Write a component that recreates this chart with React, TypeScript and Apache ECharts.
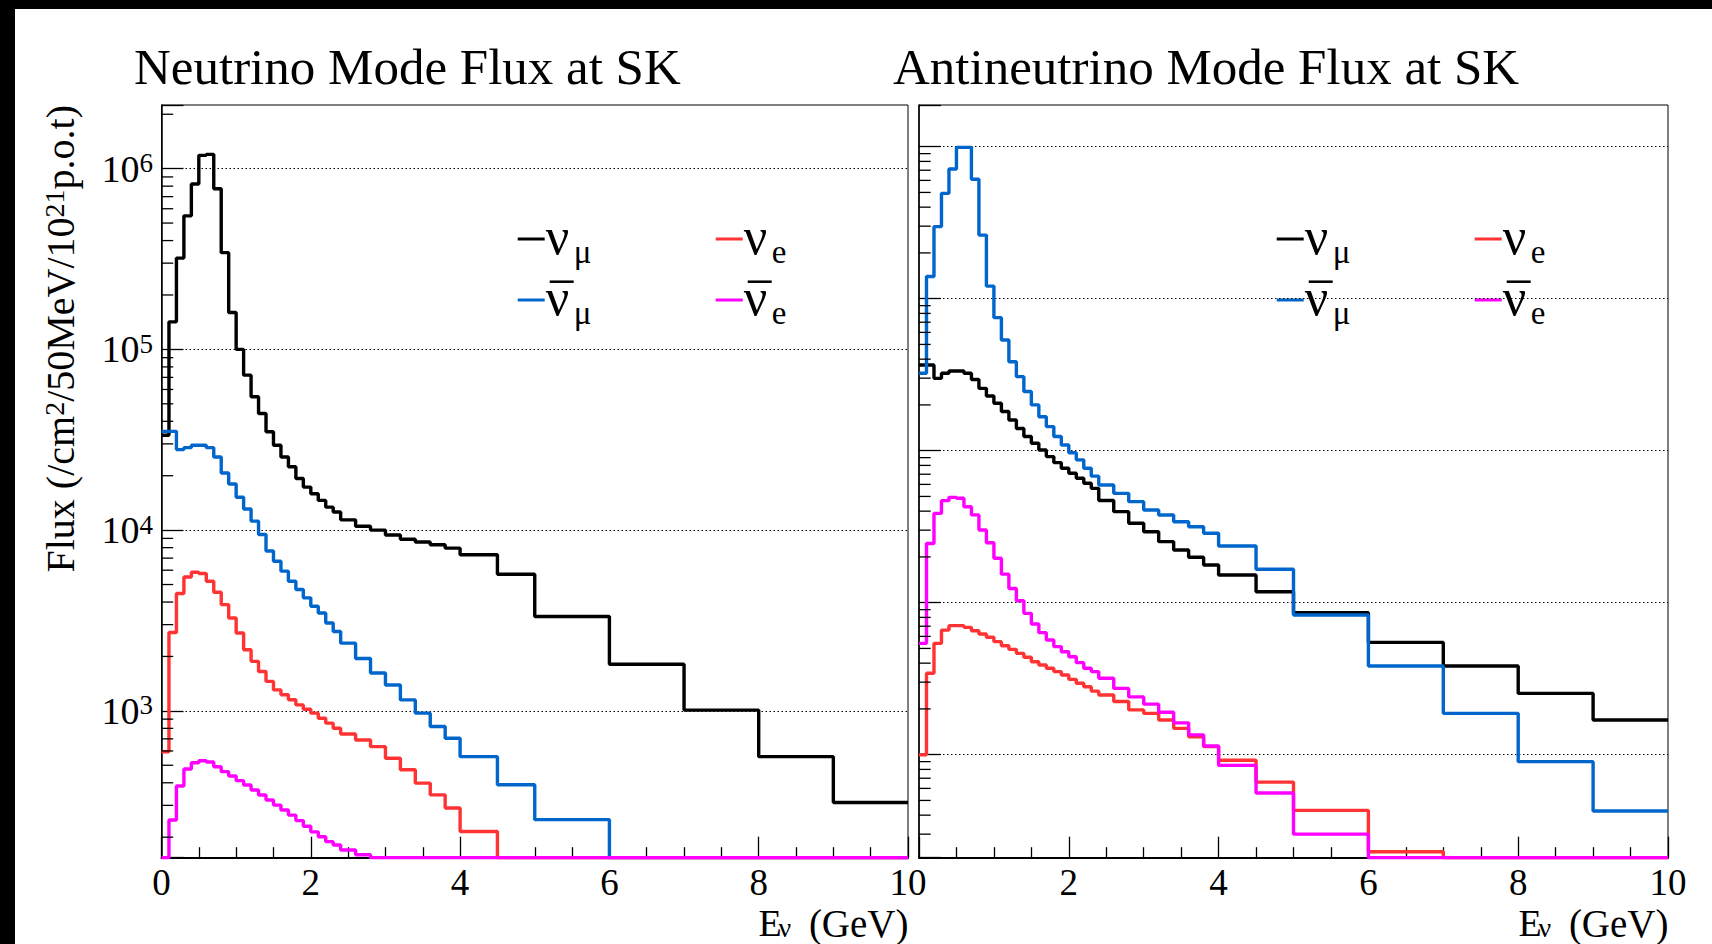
import React, { useEffect, useRef } from "react";
import * as echarts from "echarts";

// ---------- data ----------
const BIN_EDGES = [
  0, 0.1, 0.2, 0.3, 0.4, 0.5, 0.6, 0.7, 0.8, 0.9, 1.0, 1.1, 1.2, 1.3, 1.4, 1.5, 1.6, 1.7, 1.8, 1.9, 2.0,
  2.1, 2.2, 2.3, 2.4, 2.6, 2.8, 3.0, 3.2, 3.4, 3.6, 3.8, 4.0, 4.5, 5.0, 6.0, 7.0, 8.0, 9.0, 10.0,
];

// Neutrino mode (left panel); null = below the plotted range
const NU_MODE_NUMU = [
  33500, 142000, 320000, 548000, 822000, 1185000, 1200000, 774000, 343000, 160000, 100000, 72000, 54700,
  44200, 35000, 29500, 25400, 22400, 19300, 17300, 15900, 14600, 13400, 12600,
  11400, 10500, 10000, 9400, 8900, 8600, 8300, 7950, 7300, 5700, 3330, 1810, 1010, 558, 311,
];
const NU_MODE_NUMUBAR = [
  35200, 35200, 27900, 28600, 29500, 29500, 28600, 25400, 20700, 18000, 15200, 13100, 11220, 9460, 7660,
  6730, 5930, 5210, 4690, 4220, 3790, 3480, 3060, 2750,
  2370, 1950, 1620, 1390, 1150, 971, 819, 706, 558, 390, 250, null, null, null, null,
];
const NU_MODE_NUE = [
  594, 2716, 4457, 5508, 5848, 5754, 5212, 4529, 3873, 3266, 2698, 2178, 1879, 1652, 1455, 1306, 1227,
  1151, 1079, 1021, 971, 910, 855, 802,
  745, 690, 634, 547, 472, 398, 343, 290, 215, null, null, null, null, null, null,
];
const NU_MODE_NUEBAR = [
  null, 249, 384, 477, 516, 530, 521, 491, 461, 436, 411, 389, 365, 342, 321, 301, 283, 265, 247, 230,
  214, 201, 189, 181,
  170, 160, null, null, null, null, null, null, null, null, null, null, null, null, null,
];

// Antineutrino mode (right panel)
const ANU_MODE_NUMU = [
  36600, 36600, 29900, 32300, 33400, 33400, 32300, 29400, 25700, 22900, 20500, 18100, 15900, 14000, 12400,
  11200, 10100, 9140, 8340, 7660, 7100, 6580, 6100, 5650,
  4700, 3970, 3330, 2930, 2520, 2220, 1990, 1770, 1520, 1180, 859, 548, 383, 253, 169,
];
const ANU_MODE_NUMUBAR = [
  32300, 140000, 298000, 493000, 713000, 990000, 990000, 610000, 262000, 121000, 75000, 53500, 38500,
  30700, 24500, 20000, 16700, 14400, 12400, 10900, 9700, 8700, 7660, 6800,
  5940, 5240, 4620, 4070, 3770, 3410, 3160, 2860, 2360, 1660, 830, 383, 187, 90, 42.6,
];
const ANU_MODE_NUE = [
  100, 343, 540, 660, 706, 706, 688, 654, 622, 592, 554, 521, 493, 464, 437, 409, 389, 370, 352, 334, 313,
  295, 280, 262,
  247, 224, 197, 187, 169, 149, 131, 113, 92, 66, 43, 23, null, null, null,
];
const ANU_MODE_NUEBAR = [
  540, 2450, 3870, 4690, 4930, 4860, 4280, 3780, 3010, 2480, 1960, 1540, 1240, 1030, 851, 724, 635, 568,
  514, 476, 441, 403, 370, 352,
  318, 273, 240, 215, 190, 162, 135, 114, 85, 56, 30, null, null, null, null,
];

// axis ranges and tick values
const LEFT_Y_RANGE = [154, 2.25e6];
const RIGHT_Y_RANGE = [21, 1.88e6];
const X_RANGE = [0, 10];
const LEFT_MINOR_TICKS = [
  200, 300, 400, 500, 600, 700, 800, 900, 2000, 3000, 4000, 5000, 6000, 7000, 8000, 9000, 20000, 30000,
  40000, 50000, 60000, 70000, 80000, 90000, 200000, 300000, 400000, 500000, 600000, 700000, 800000,
  900000, 2000000,
];
const RIGHT_MINOR_TICKS = [
  30, 40, 50, 60, 70, 80, 90, 200, 300, 400, 500, 600, 700, 800, 900, 2000, 3000, 4000, 5000, 6000, 7000,
  8000, 9000, 20000, 30000, 40000, 50000, 60000, 70000, 80000, 90000, 200000, 300000, 400000, 500000,
  600000, 700000, 800000, 900000,
];

const TITLES = ["Neutrino Mode Flux at SK", "Antineutrino Mode Flux at SK"];

// ---------- styling ----------
const FONT = '"Liberation Serif", "Times New Roman", serif';
const BLACK = "#000000";
const BLUE = "#0066cc";
const RED = "#ff3333";
const MAGENTA = "#ff00ff";

const GRIDS = [
  { left: 161.5, top: 105, width: 746.5, height: 752.7 },
  { left: 919, top: 105, width: 749, height: 752.7 },
];

function histData(values: (number | null)[], floor: number) {
  const pts: number[][] = values.map((v, i) => [BIN_EDGES[i], v == null ? floor : v]);
  const last = values[values.length - 1];
  pts.push([BIN_EDGES[BIN_EDGES.length - 1], last == null ? floor : last]);
  return pts;
}

function decadeLabel(v: number) {
  const e = Math.log10(v);
  const r = Math.round(e);
  if (Math.abs(e - r) > 1e-6) return "";
  return `{b|10}{s|${r}}`;
}

function buildOption() {
  const series: any[] = [];
  const panels = [
    { data: [NU_MODE_NUMU, NU_MODE_NUMUBAR, NU_MODE_NUE, NU_MODE_NUEBAR], range: LEFT_Y_RANGE, minor: LEFT_MINOR_TICKS },
    { data: [ANU_MODE_NUMU, ANU_MODE_NUMUBAR, ANU_MODE_NUE, ANU_MODE_NUEBAR], range: RIGHT_Y_RANGE, minor: RIGHT_MINOR_TICKS },
  ];
  const names = ["νμ", "anti-νμ", "νe", "anti-νe"];
  const colors = [BLACK, BLUE, RED, MAGENTA];
  panels.forEach((p, pi) => {
    p.data.forEach((vals, si) => {
      series.push({
        type: "line",
        name: names[si],
        xAxisIndex: pi,
        yAxisIndex: pi,
        step: "end",
        symbol: "none",
        clip: true,
        z: 3 + si,
        lineStyle: { color: colors[si], width: 3.4 },
        data: histData(vals, p.range[0]),
      });
    });
    series.push({
      type: "custom",
      xAxisIndex: pi,
      yAxisIndex: pi,
      silent: true,
      clip: false,
      z: 8,
      data: p.minor.map((v) => [X_RANGE[0], v]),
      renderItem: (_params: any, api: any) => {
        const c = api.coord([api.value(0), api.value(1)]);
        return {
          type: "line",
          shape: { x1: c[0], y1: c[1], x2: c[0] + 11.7, y2: c[1] },
          style: { stroke: BLACK, lineWidth: 1.3 },
        };
      },
    });
  });

  const xAxis = GRIDS.map((_, i) => ({
    type: "value",
    gridIndex: i,
    min: X_RANGE[0],
    max: X_RANGE[1],
    interval: 2,
    axisLine: { show: true, onZero: false, lineStyle: { color: BLACK, width: 2 } },
    axisTick: { show: true, inside: true, length: 21, lineStyle: { color: BLACK, width: 1.3 } },
    minorTick: { show: true, splitNumber: 4, length: 10.5, lineStyle: { color: BLACK, width: 1.3 } },
    splitLine: { show: false },
    axisLabel: {
      show: true,
      margin: 6,
      color: BLACK,
      fontFamily: FONT,
      fontSize: 37,
      formatter: (v: number) => (i === 1 && v === 0 ? "" : String(v)),
    },
  }));

  const yAxis = GRIDS.map((_, i) => ({
    type: "log",
    logBase: 10,
    gridIndex: i,
    min: i === 0 ? LEFT_Y_RANGE[0] : RIGHT_Y_RANGE[0],
    max: i === 0 ? LEFT_Y_RANGE[1] : RIGHT_Y_RANGE[1],
    splitNumber: 5,
    axisLine: { show: true, onZero: false, lineStyle: { color: BLACK, width: 1.5 } },
    axisTick: { show: true, inside: true, length: 22, lineStyle: { color: BLACK, width: 1.3 } },
    minorTick: { show: false },
    splitLine: {
      show: true,
      showMinLine: false,
      showMaxLine: false,
      lineStyle: { color: BLACK, width: 1, type: [1.5, 2.5] },
    },
    axisLabel: {
      show: i === 0,
      margin: 8.5,
      formatter: decadeLabel,
      rich: {
        b: { fontFamily: FONT, fontSize: 38, lineHeight: 38, color: BLACK, verticalAlign: "bottom" },
        s: { fontFamily: FONT, fontSize: 27, lineHeight: 27, color: BLACK, verticalAlign: "top" },
      },
    },
  }));

  const graphic: any[] = [];
  // outer black frame pieces
  graphic.push({ type: "rect", shape: { x: 0, y: 0, width: 1712, height: 9 }, style: { fill: BLACK }, z: 100 });
  graphic.push({ type: "rect", shape: { x: 0, y: 0, width: 15, height: 944 }, style: { fill: BLACK }, z: 100 });

  // titles
  [134, 893].forEach((x, i) => {
    graphic.push({
      type: "text",
      x,
      y: 67,
      style: { text: TITLES[i], font: `51px ${FONT}`, fill: BLACK, textAlign: "left", textVerticalAlign: "middle" },
    });
  });

  // y-axis title
  graphic.push({
    type: "text",
    x: 60,
    y: 105,
    rotation: Math.PI / 2,
    style: {
      text: "{a|Flux (/cm}{s|2}{a|/50MeV/10}{s|21}{a|p.o.t)}",
      textAlign: "right",
      textVerticalAlign: "middle",
      rich: {
        a: { fontFamily: FONT, fontSize: 40, lineHeight: 40, padding: [12, 0, 0, 0], fill: BLACK, verticalAlign: "bottom" },
        s: { fontFamily: FONT, fontSize: 28, lineHeight: 28, fill: BLACK, verticalAlign: "top" },
      },
    },
  });

  // x-axis titles
  GRIDS.forEach((g) => {
    const right = g.left + g.width;
    graphic.push({
      type: "text",
      x: right + 0.5,
      y: 923,
      style: { text: "(GeV)", font: `39px ${FONT}`, fill: BLACK, textAlign: "right", textVerticalAlign: "middle" },
    });
    graphic.push({
      type: "text",
      x: right - 149.6,
      y: 923,
      style: { text: "E", font: `38px ${FONT}`, fill: BLACK, textAlign: "left", textVerticalAlign: "middle" },
    });
    graphic.push({
      type: "text",
      x: right - 129.5,
      y: 927,
      style: { text: "ν", font: `28px ${FONT}`, fill: BLACK, textAlign: "left", textVerticalAlign: "middle" },
    });
  });

  // legends
  const entries = [
    { col: 0, row: 0, color: BLACK, sub: "μ", bar: false },
    { col: 1, row: 0, color: RED, sub: "e", bar: false },
    { col: 0, row: 1, color: BLUE, sub: "μ", bar: true },
    { col: 1, row: 1, color: MAGENTA, sub: "e", bar: true },
  ];
  [0, 759].forEach((off) => {
    entries.forEach((e) => {
      const dx = 517.7 + off + e.col * 198;
      const ry = 239 + e.row * 61;
      graphic.push({
        type: "line",
        shape: { x1: dx, y1: ry, x2: dx + 27, y2: ry },
        style: { stroke: e.color, lineWidth: 3 },
      });
      graphic.push({
        type: "text",
        x: dx + 28,
        y: ry - 3,
        style: { text: "ν", font: `52px ${FONT}`, fill: BLACK, textAlign: "left", textVerticalAlign: "middle" },
      });
      graphic.push({
        type: "text",
        x: dx + 56,
        y: ry + 13,
        style: { text: e.sub, font: `33px ${FONT}`, fill: BLACK, textAlign: "left", textVerticalAlign: "middle" },
      });
      if (e.bar) {
        graphic.push({
          type: "line",
          shape: { x1: dx + 32, y1: ry - 18.3, x2: dx + 56, y2: ry - 18.3 },
          style: { stroke: BLACK, lineWidth: 2.5 },
        });
      }
    });
  });

  return {
    animation: false,
    backgroundColor: "#ffffff",
    grid: GRIDS.map((g) => ({ ...g, show: true, borderColor: BLACK, borderWidth: 1, backgroundColor: "transparent" })),
    xAxis,
    yAxis,
    series,
    graphic,
  };
}

export default function App() {
  const ref = useRef<HTMLDivElement>(null);
  useEffect(() => {
    if (!ref.current) return;
    const chart = echarts.init(ref.current, null, { renderer: "svg" });
    chart.setOption(buildOption() as any);
    return () => chart.dispose();
  }, []);
  return (
    <div
      ref={ref}
      style={{ position: "fixed", left: 0, top: 0, width: 1712, height: 944, background: "#fff" }}
    />
  );
}
